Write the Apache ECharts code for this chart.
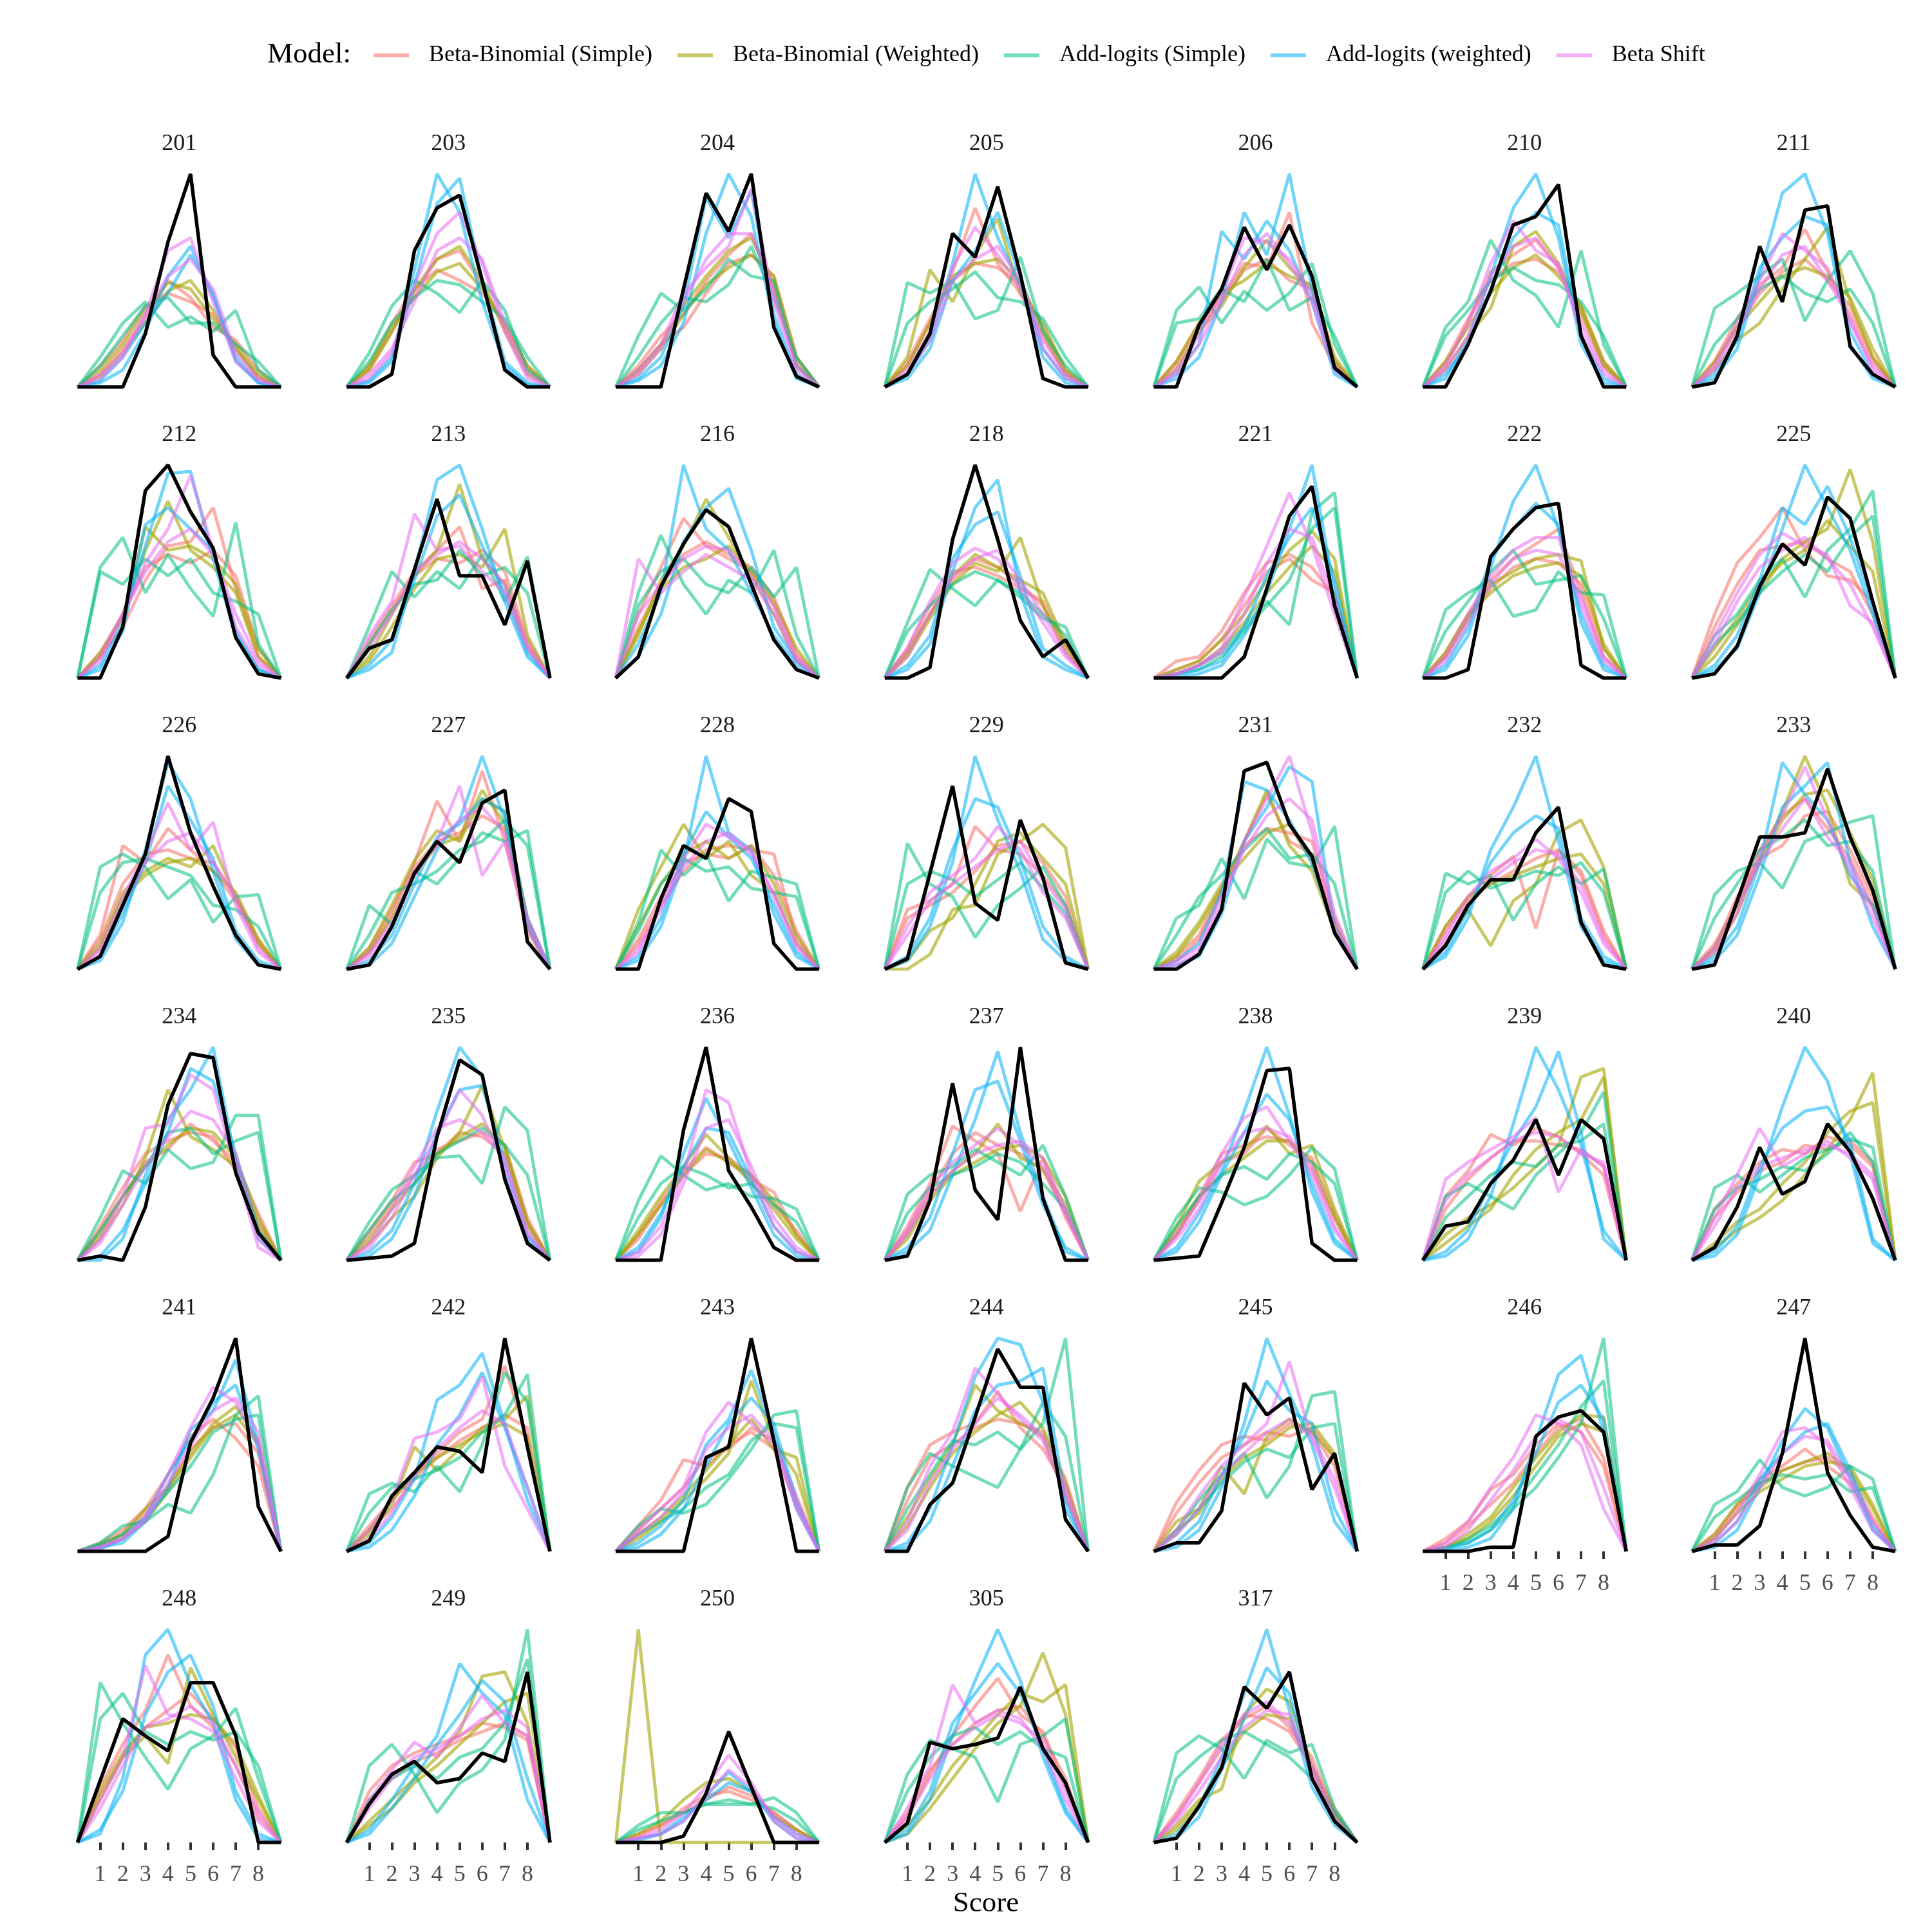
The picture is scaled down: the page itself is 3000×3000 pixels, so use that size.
<!DOCTYPE html>
<html>
<head>
<meta charset="UTF-8">
<title>Score distributions by model</title>
<script src="https://cdn.jsdelivr.net/npm/echarts@6/dist/echarts.min.js"></script>
<style>
    html, body { margin: 0; padding: 0; background: #fff; }
    #chart { width: 3000px; height: 3000px; }
</style>
</head>
<body>
<div id="chart"></div>
<script>
// panel ids, in reading order (7 per row)
var panelIds = ['201','203','204','205','206','210','211',
                '212','213','216','218','221','222','225',
                '226','227','228','229','231','232','233',
                '234','235','236','237','238','239','240',
                '241','242','243','244','245','246','247',
                '248','249','250','305','317'];
var scoreTicks = [1, 2, 3, 4, 5, 6, 7, 8];
var modelNames = ['Beta-Binomial (Simple)', 'Beta-Binomial (Weighted)', 'Add-logits (Simple)', 'Add-logits (weighted)', 'Beta Shift'];

// observed distribution (black line), scores 1..8, relative to panel max
var observed = [
    [0,0,25,68,100,15,0,0],[0,6,64,84,90,50,8,0],[0,0,46,91,73,100,28,5],[6,25,72,61,94,53,4,0],
    [0,29,46,75,55,76,52,9],[0,20,45,76,80,95,24,0],[2,24,66,40,83,85,19,6],
    [0,24,88,100,78,61,19,2],[14,18,51,84,48,48,25,55],[10,43,63,79,71,44,18,4],[0,5,65,100,65,27,10,18],
    [0,0,0,10,42,76,90,34],[0,4,57,70,80,82,6,0],[2,15,43,63,53,85,75,36],
    [6,30,54,100,64,39,16,2],[2,20,45,60,50,78,84,13],[0,33,58,52,80,74,12,0],[5,45,86,31,23,70,43,3],
    [0,7,28,93,97,68,53,17],[11,30,42,42,64,76,22,2],[2,32,62,62,64,94,62,37],
    [2,0,25,73,97,95,41,13],[1,2,8,58,94,87,38,8],[0,0,61,100,42,25,6,0],[2,28,83,33,19,100,29,0],
    [1,2,27,53,89,90,8,0],[16,18,36,47,66,40,66,57],[6,25,53,31,37,64,51,29],
    [0,0,0,7,51,72,100,21],[5,26,37,49,47,37,100,49],[0,0,0,44,49,100,52,0],[0,22,32,63,95,77,77,15],
    [4,4,19,79,64,72,29,46],[0,0,2,2,54,63,66,56],[3,3,12,46,100,37,17,2],
    [29,58,50,43,75,75,50,0],[18,32,38,28,30,42,38,80],[0,0,3,23,52,26,0,0],[9,47,44,46,49,73,44,28],
    [2,17,35,73,63,80,30,10]
];

// two runs per model per panel
var betaBinomialSimple = [
    [[10,22,38,44,40,34,18,5],[6,18,32,50,42,28,22,8]],
    [[8,26,44,60,64,48,28,8],[10,30,46,55,50,44,30,10]],
    [[10,24,34,50,62,72,46,12],[8,20,28,44,58,62,52,14]],
    [[10,30,54,84,58,44,24,6],[12,32,50,58,56,48,28,8]],
    [[12,30,42,58,56,82,30,10],[10,28,40,55,60,50,46,12]],
    [[10,30,54,62,69,56,34,10],[12,32,50,58,60,54,38,12]],
    [[12,32,48,56,74,54,34,12],[10,28,44,54,60,50,38,14]],
    [[10,24,46,62,64,80,42,10],[12,30,52,58,54,60,48,14]],
    [[18,34,50,60,71,42,46,16],[16,32,48,56,54,60,50,18]],
    [[30,52,75,62,56,50,34,10],[24,44,58,64,58,52,38,12]],
    [[12,30,46,56,52,44,34,12],[14,34,50,52,48,42,36,16]],
    [[8,10,22,40,54,58,52,38],[4,8,18,34,50,56,46,40]],
    [[12,30,46,56,63,70,40,10],[10,28,42,52,56,54,44,14]],
    [[30,54,66,80,60,48,46,36],[24,44,60,62,64,56,50,30]],
    [[16,58,50,66,56,46,32,12],[14,40,54,56,52,50,34,14]],
    [[8,26,50,79,60,93,60,18],[10,28,48,60,64,72,66,22]],
    [[12,30,46,56,58,56,54,14],[14,34,50,54,52,58,44,18]],
    [[28,32,40,67,56,54,44,30],[24,30,36,46,58,60,50,34]],
    [[4,14,36,60,82,60,54,20],[6,16,38,58,66,64,60,24]],
    [[20,34,44,53,19,56,44,16],[18,32,40,46,52,56,46,18]],
    [[12,30,56,72,80,66,52,30],[10,34,52,58,72,74,56,34]],
    [[16,34,50,56,60,58,42,18],[14,30,46,52,64,56,46,22]],
    [[14,28,46,50,60,58,50,18],[12,26,40,52,56,60,54,20]],
    [[12,28,42,53,46,38,32,12],[10,26,40,50,48,40,26,14]],
    [[16,36,63,56,50,23,48,20],[14,32,50,60,54,50,42,22]],
    [[14,30,50,54,58,56,42,20],[12,28,46,50,62,54,48,22]],
    [[30,42,59,54,62,58,50,40],[24,38,48,56,56,54,52,44]],
    [[24,36,46,52,50,58,54,44],[20,32,42,46,54,52,56,46]],
    [[4,10,20,36,54,62,53,40],[3,8,18,30,48,58,60,46]],
    [[12,24,36,46,56,62,87,52],[10,20,34,44,52,58,64,58]],
    [[12,24,43,40,50,56,48,22],[10,20,30,44,48,58,52,26]],
    [[30,50,56,60,75,58,48,30],[24,44,50,58,62,60,56,34]],
    [[23,38,50,54,52,60,56,40],[18,32,44,50,56,54,58,44]],
    [[6,14,29,36,50,60,56,40],[4,12,22,32,46,58,62,44]],
    [[8,22,34,40,48,40,32,14],[6,20,32,38,42,44,36,16]],
    [[26,46,62,88,64,54,36,12],[22,40,54,62,70,58,44,16]],
    [[24,36,42,46,50,56,54,48],[20,30,38,42,48,52,56,50]],
    [[4,8,16,22,24,20,14,6],[3,8,14,20,26,22,14,6]],
    [[12,32,50,64,77,60,52,26],[14,34,46,56,62,64,50,30]],
    [[14,30,48,58,64,54,40,14],[12,28,44,60,58,52,36,16]]
];

var betaBinomialWeighted = [
    [[8,20,36,49,46,32,20,6],[5,16,30,45,50,36,18,4]],
    [[8,26,46,60,66,50,26,6],[10,28,42,54,58,46,30,10]],
    [[8,20,38,52,64,70,48,10],[6,18,34,48,56,62,52,14]],
    [[14,55,40,62,79,44,30,8],[10,30,52,58,60,50,26,6]],
    [[8,26,38,56,69,56,46,12],[12,30,44,50,58,52,48,14]],
    [[8,24,37,66,73,58,36,10],[12,28,44,56,62,52,38,12]],
    [[8,22,30,46,60,75,40,14],[12,28,40,52,56,52,42,18]],
    [[10,30,60,83,60,52,40,10],[12,28,71,60,62,56,44,14]],
    [[10,30,48,60,91,56,44,14],[8,24,42,56,58,52,70,20]],
    [[20,46,62,84,66,48,30,8],[22,42,52,56,62,50,36,14]],
    [[10,28,44,54,50,66,34,14],[12,30,48,58,52,46,40,16]],
    [[4,8,18,30,46,60,69,56],[2,6,14,26,40,52,62,50]],
    [[10,28,44,50,56,58,55,14],[12,30,40,48,52,54,48,16]],
    [[10,25,40,56,64,70,98,64],[14,28,44,54,60,74,62,50]],
    [[12,36,46,52,48,58,34,12],[10,34,44,50,52,46,36,14]],
    [[10,30,51,65,60,80,74,24],[8,24,44,58,62,84,68,20]],
    [[28,48,68,52,60,44,36,12],[20,40,54,60,52,58,40,16]],
    [[0,7,28,30,54,60,68,57],[4,18,24,40,60,64,52,40]],
    [[6,20,38,60,84,58,46,18],[8,22,40,52,64,68,50,22]],
    [[12,28,11,32,40,64,70,48],[20,34,40,44,48,52,54,40]],
    [[8,26,52,74,100,76,40,30],[10,30,50,70,82,84,64,42]],
    [[10,26,48,80,58,52,44,16],[12,30,44,54,62,60,48,20]],
    [[8,20,30,48,60,82,52,16],[10,24,36,50,58,64,54,18]],
    [[14,30,44,59,48,36,24,10],[12,26,40,52,46,40,28,12]],
    [[12,30,42,50,64,48,43,26],[10,28,40,46,52,54,48,30]],
    [[16,37,46,52,63,50,54,24],[12,30,40,48,56,56,46,20]],
    [[12,20,26,34,44,54,86,90],[8,16,24,40,52,60,66,86]],
    [[6,14,20,28,40,52,66,88],[8,18,24,36,46,60,70,74]],
    [[3,8,20,30,46,60,68,52],[2,6,14,28,44,58,64,50]],
    [[8,22,49,38,48,58,62,73],[10,24,36,44,50,56,60,54]],
    [[6,14,24,34,46,80,52,36],[8,16,26,38,50,62,48,44]],
    [[16,34,50,78,66,60,54,26],[12,30,46,56,64,70,58,32]],
    [[14,20,40,27,54,62,56,44],[10,18,34,44,50,58,60,46]],
    [[2,8,16,30,44,56,64,63],[2,6,14,26,40,54,60,56]],
    [[8,22,30,38,42,46,38,20],[6,18,28,34,40,42,40,22]],
    [[20,40,50,37,82,60,40,20],[24,42,54,56,60,58,46,22]],
    [[10,20,30,40,52,78,80,56],[8,16,28,36,46,56,66,70]],
    [[100,0,0,0,0,0,0,0],[4,10,20,28,30,24,12,6]],
    [[4,16,30,44,56,64,89,60],[8,20,36,48,60,70,66,74]],
    [[8,20,25,60,72,66,36,12],[6,18,36,52,60,58,34,14]]
];

var addLogitsSimple = [
    [[14,30,40,28,33,26,36,8],[10,24,38,42,30,30,20,12]],
    [[16,38,50,44,35,50,36,8],[12,30,42,50,48,40,32,14]],
    [[24,44,36,46,60,52,50,10],[14,30,42,40,48,66,42,14]],
    [[49,44,50,32,36,61,26,10],[30,40,46,54,42,40,32,14]],
    [[36,47,30,45,36,44,58,20],[30,32,46,40,60,36,42,24]],
    [[28,40,69,50,43,28,64,20],[24,36,50,56,50,48,40,24]],
    [[37,44,52,60,31,50,64,44],[20,32,46,52,44,40,46,30]],
    [[52,66,40,58,42,29,73,16],[50,44,56,48,56,40,36,30]],
    [[24,50,38,50,42,58,36,57],[16,32,44,46,60,48,52,40]],
    [[40,67,44,30,46,40,60,20],[34,50,56,44,40,52,38,52]],
    [[26,51,42,34,46,40,30,20],[22,34,44,50,46,38,28,24]],
    [[2,6,12,24,36,25,78,87],[2,4,10,22,34,46,70,80]],
    [[32,40,46,29,32,50,40,39],[22,36,50,60,44,46,48,28]],
    [[20,30,46,56,38,60,70,88],[16,26,40,50,58,50,66,76]],
    [[48,54,48,33,42,22,34,35],[36,50,52,48,44,30,28,20]],
    [[30,21,46,40,52,64,60,65],[16,36,40,46,56,60,70,58]],
    [[22,56,44,54,32,46,43,40],[18,40,52,46,48,38,36,34]],
    [[59,40,34,15,30,38,48,30],[40,46,42,34,42,50,38,26]],
    [[24,30,52,33,61,50,48,67],[16,34,44,56,66,52,54,40]],
    [[45,40,44,23,40,48,40,47],[36,46,38,42,46,44,50,36]],
    [[35,46,50,38,60,64,69,72],[24,40,56,62,70,58,60,46]],
    [[20,42,36,52,43,46,68,68],[14,30,44,60,62,50,56,60]],
    [[18,33,40,48,49,36,72,61],[14,28,36,50,56,62,54,40]],
    [[28,49,40,33,36,30,29,24],[20,36,44,40,34,36,26,18]],
    [[31,40,44,52,46,40,54,30],[22,34,40,44,50,46,36,24]],
    [[20,34,32,26,30,40,53,43],[16,30,40,44,38,50,46,36]],
    [[30,36,30,24,40,50,60,79],[20,30,40,46,44,54,56,64]],
    [[34,40,32,40,48,52,57,53],[24,34,38,44,42,50,60,46]],
    [[4,12,14,22,18,36,64,73],[3,8,16,28,40,56,62,64]],
    [[27,32,28,40,28,50,84,70],[18,30,34,38,44,56,64,83]],
    [[12,20,18,22,34,48,64,66],[8,14,20,30,36,52,60,58]],
    [[30,46,40,35,30,48,60,100],[20,36,52,50,56,48,70,54]],
    [[10,24,36,46,25,40,73,75],[8,20,32,42,48,44,58,60]],
    [[2,4,10,20,30,44,60,100],[1,6,12,22,36,50,68,80]],
    [[22,28,43,30,26,30,40,34],[16,24,32,36,34,36,28,30]],
    [[75,56,40,25,44,50,63,30],[58,70,52,46,52,48,52,36]],
    [[36,46,32,14,28,34,48,100],[20,30,36,30,40,44,56,86]],
    [[8,14,14,18,18,18,21,14],[6,10,14,18,20,18,16,10]],
    [[32,48,44,40,19,46,50,58],[24,40,50,54,46,52,44,40]],
    [[42,50,44,30,48,42,46,16],[30,40,48,52,46,40,30,14]]
];

var addLogitsWeighted = [
    [[2,8,26,52,66,42,14,2],[3,14,30,44,62,44,12,2]],
    [[3,14,55,100,82,40,10,1],[2,12,48,86,98,50,12,2]],
    [[3,10,30,72,100,80,30,4],[4,14,38,89,70,92,34,6]],
    [[6,22,58,100,70,48,14,2],[4,18,50,64,82,52,18,4]],
    [[4,14,40,82,62,100,46,8],[6,20,73,60,78,64,40,6]],
    [[4,22,52,84,100,70,20,2],[6,20,46,70,82,76,24,4]],
    [[4,18,52,91,100,72,20,4],[6,22,56,70,80,76,26,6]],
    [[6,26,62,96,97,56,20,4],[4,22,72,80,70,60,22,4]],
    [[4,12,50,93,100,70,36,10],[6,18,46,76,86,62,40,12]],
    [[16,40,100,70,60,40,20,6],[10,30,64,80,89,60,24,8]],
    [[4,16,50,80,93,40,10,4],[6,20,56,72,78,48,14,6]],
    [[0,2,6,20,40,70,100,40],[1,4,8,24,48,66,80,46]],
    [[4,20,52,83,100,70,26,4],[6,24,56,70,82,72,30,6]],
    [[4,14,40,70,100,80,60,30],[6,20,46,80,72,90,66,34]],
    [[4,22,56,97,80,46,14,2],[6,26,50,86,70,52,18,4]],
    [[2,12,34,56,70,100,70,20],[4,16,40,62,68,80,74,24]],
    [[4,20,50,100,64,56,26,6],[6,24,54,74,62,52,30,8]],
    [[4,20,50,100,70,46,14,4],[6,24,56,80,76,52,20,6]],
    [[2,6,26,60,76,95,88,20],[4,12,36,88,84,70,50,18]],
    [[6,24,56,76,100,60,20,4],[8,28,50,64,72,66,24,6]],
    [[6,20,50,97,82,70,44,30],[4,16,44,76,86,97,50,20]],
    [[0,10,40,66,80,100,46,10],[2,14,36,60,90,84,50,14]],
    [[4,14,36,70,100,86,40,10],[2,10,30,60,80,82,46,12]],
    [[4,20,50,76,56,34,12,2],[6,22,44,62,60,38,16,4]],
    [[4,14,40,66,98,60,30,4],[6,20,50,80,84,56,26,6]],
    [[6,22,42,70,100,68,32,8],[4,18,40,60,78,66,36,10]],
    [[2,10,30,64,100,80,54,14],[4,14,36,56,72,98,60,10]],
    [[2,12,40,72,100,84,50,8],[4,16,44,62,70,72,56,10]],
    [[2,4,14,30,57,66,90,50],[1,6,16,36,52,70,78,48]],
    [[4,16,34,71,78,93,60,24],[2,10,26,50,64,84,58,30]],
    [[4,12,24,50,62,85,56,20],[2,8,20,40,60,72,60,24]],
    [[4,20,50,82,100,97,70,20],[2,14,40,66,78,80,86,24]],
    [[2,10,30,60,100,74,50,14],[4,14,36,54,80,66,60,20]],
    [[0,2,6,20,52,83,92,56],[1,4,10,24,46,70,78,62]],
    [[2,10,30,52,67,58,34,10],[4,14,34,46,56,60,38,12]],
    [[4,30,88,100,74,56,20,2],[6,24,60,80,88,64,24,4]],
    [[6,20,36,50,84,70,60,20],[4,16,30,46,60,76,66,30]],
    [[2,4,10,22,33,24,10,2],[1,4,12,20,28,24,12,4]],
    [[4,20,50,76,100,76,40,14],[6,24,56,70,84,70,44,16]],
    [[4,16,40,70,100,62,26,8],[2,12,34,58,82,70,30,10]]
];

var betaShift = [
    [[4,14,34,64,70,40,12,3],[6,16,34,52,60,46,16,4]],
    [[4,16,48,72,82,58,26,4],[6,18,40,64,70,60,30,6]],
    [[8,20,44,56,66,93,40,8],[6,18,40,60,72,72,45,10]],
    [[8,26,56,75,62,46,18,4],[6,22,50,60,66,50,22,6]],
    [[8,24,44,70,68,60,44,10],[6,20,40,62,72,58,40,8]],
    [[10,30,58,78,64,58,26,6],[8,24,52,66,70,56,30,8]],
    [[10,30,50,72,64,56,30,10],[8,26,46,62,66,50,32,8]],
    [[8,30,54,70,95,60,24,6],[10,30,50,64,70,58,30,8]],
    [[20,36,77,60,62,50,40,14],[14,30,50,58,64,56,44,16]],
    [[56,40,50,58,52,46,30,8],[30,44,56,62,60,48,34,10]],
    [[14,36,54,61,56,42,26,10],[10,30,48,56,60,46,30,12]],
    [[2,6,14,38,62,87,62,30],[2,6,12,30,54,70,66,36]],
    [[10,30,48,60,66,66,34,8],[8,26,44,56,60,58,38,10]],
    [[20,40,58,68,62,58,34,26],[16,36,52,60,66,56,44,24]],
    [[10,34,54,78,56,69,30,8],[8,30,50,60,64,50,34,10]],
    [[6,20,44,60,86,44,60,20],[8,22,46,58,70,76,64,24]],
    [[8,30,52,68,62,56,34,10],[10,28,48,60,64,54,36,12]],
    [[20,36,44,52,67,56,36,24],[16,32,40,48,56,60,42,28]],
    [[2,8,30,60,80,100,64,20],[4,10,34,56,72,80,70,26]],
    [[16,34,46,52,61,52,36,12],[14,30,42,50,56,54,40,14]],
    [[8,26,54,72,95,70,46,24],[10,30,50,66,80,62,50,28]],
    [[10,30,62,64,87,80,44,6],[8,26,44,58,70,66,50,10]],
    [[6,20,40,58,80,68,44,12],[8,24,44,62,66,60,48,14]],
    [[4,16,40,80,74,40,16,4],[2,12,36,62,66,44,20,6]],
    [[14,34,46,54,62,54,44,22],[12,30,42,50,54,56,48,24]],
    [[12,28,50,67,72,56,40,14],[10,24,46,60,62,58,44,16]],
    [[38,46,52,58,67,32,52,44],[28,40,48,56,60,58,50,46]],
    [[20,40,62,44,50,56,48,38],[16,34,44,48,52,54,50,40]],
    [[2,6,16,36,58,77,70,50],[2,6,14,32,50,66,72,56]],
    [[10,24,53,56,62,82,40,20],[6,18,36,48,58,66,60,30]],
    [[10,20,30,56,70,60,50,20],[8,16,28,48,58,64,52,24]],
    [[14,40,56,86,74,62,52,26],[10,32,48,60,72,64,54,30]],
    [[10,26,40,50,60,89,52,30],[8,20,36,46,56,62,54,34]],
    [[4,14,30,44,64,60,50,20],[2,10,24,38,54,62,56,30]],
    [[6,18,36,56,58,50,30,10],[4,14,30,46,54,52,34,14]],
    [[20,40,83,60,58,52,30,10],[16,36,54,58,64,56,36,14]],
    [[20,34,47,40,54,69,56,50],[16,30,40,44,50,58,62,54]],
    [[2,6,14,26,41,28,10,2],[2,4,10,22,34,26,12,4]],
    [[16,36,74,56,62,58,44,20],[12,30,46,54,60,56,48,24]],
    [[12,28,46,60,66,56,34,10],[10,24,40,54,62,60,36,12]]
];

var modelColors = ['rgba(248,118,109,0.58)', 'rgba(163,165,0,0.6)', 'rgba(0,191,125,0.55)', 'rgba(0,176,246,0.55)', 'rgba(231,107,243,0.55)'];
var modelRuns = [betaBinomialSimple, betaBinomialWeighted, addLogitsSimple, addLogitsWeighted, betaShift];

var FONT = 'Liberation Serif';
var NCOL = 7;
var PLOT_LEFT = 120.5, COL_STEP = 417.8, PLOT_W = 315.7;
var PLOT_TOP = 270, ROW_STEP = 452, PLOT_H = 331;

// scores 1..8 padded with a zero at 0 and 9
function toPoints(vals) {
    var pts = [[0, 0]];
    vals.forEach(function (v, k) { pts.push([scoreTicks[k], v]); });
    pts.push([scoreTicks.length + 1, 0]);
    return pts;
}

var grids = [], xAxes = [], yAxes = [], series = [];
var titles = [
    { text: 'Model:', left: 415, top: 85, textAlign: 'left', textVerticalAlign: 'middle', padding: 0,
      textStyle: { fontFamily: FONT, fontSize: 45, fontWeight: 'normal', color: '#000' } },
    { text: 'Score', left: 1531, top: 2956, textAlign: 'center', textVerticalAlign: 'middle', padding: 0,
      textStyle: { fontFamily: FONT, fontSize: 45, fontWeight: 'normal', color: '#000' } }
];

panelIds.forEach(function (id, i) {
    var row = Math.floor(i / NCOL), col = i % NCOL;
    var left = PLOT_LEFT + col * COL_STEP;
    var top = PLOT_TOP + row * ROW_STEP;
    // bottom panel of each column carries the score axis
    var lastRow = Math.floor((panelIds.length - 1 - col) / NCOL);
    var showTicks = row === lastRow;

    grids.push({ left: left, top: top, width: PLOT_W, height: PLOT_H });
    titles.push({
        text: id, left: left + PLOT_W / 2, top: top - 46, textAlign: 'center', textVerticalAlign: 'middle', padding: 0,
        textStyle: { fontFamily: FONT, fontSize: 36, fontWeight: 'normal', color: '#1a1a1a' }
    });
    xAxes.push({
        gridIndex: i, type: 'value', min: 0, max: scoreTicks.length + 1, offset: 15,
        axisLine: { show: false },
        splitLine: { show: false },
        axisTick: { show: showTicks, customValues: scoreTicks, length: 12, lineStyle: { color: '#333', width: 4 } },
        axisLabel: { show: showTicks, customValues: scoreTicks, margin: 18,
                     fontFamily: FONT, fontSize: 36, color: '#4d4d4d' }
    });
    yAxes.push({ gridIndex: i, type: 'value', min: 0, max: 'dataMax', show: false, splitLine: { show: false } });

    modelRuns.forEach(function (runs, m) {
        runs[i].forEach(function (vals) {
            series.push({
                name: modelNames[m], type: 'line', xAxisIndex: i, yAxisIndex: i,
                data: toPoints(vals), symbol: 'none', silent: true, z: 2,
                itemStyle: { color: modelColors[m] },
                lineStyle: { color: modelColors[m], width: 5 }
            });
        });
    });
    series.push({
        name: 'Observed', type: 'line', xAxisIndex: i, yAxisIndex: i,
        data: toPoints(observed[i]), symbol: 'none', silent: true, z: 3,
        itemStyle: { color: '#000' },
        lineStyle: { color: '#000', width: 5.5 }
    });
});

var chart = echarts.init(document.getElementById('chart'));
chart.setOption({
    backgroundColor: '#fff',
    animation: false,
    title: titles,
    legend: {
        data: modelNames, left: 580, top: 68, padding: 0, itemGap: 39,
        itemWidth: 55, itemHeight: 6, icon: 'rect', selectedMode: false,
        textStyle: { fontFamily: FONT, fontSize: 36, color: '#000', padding: [0, 0, 0, 26] }
    },
    grid: grids,
    xAxis: xAxes,
    yAxis: yAxes,
    series: series
});
</script>
</body>
</html>
